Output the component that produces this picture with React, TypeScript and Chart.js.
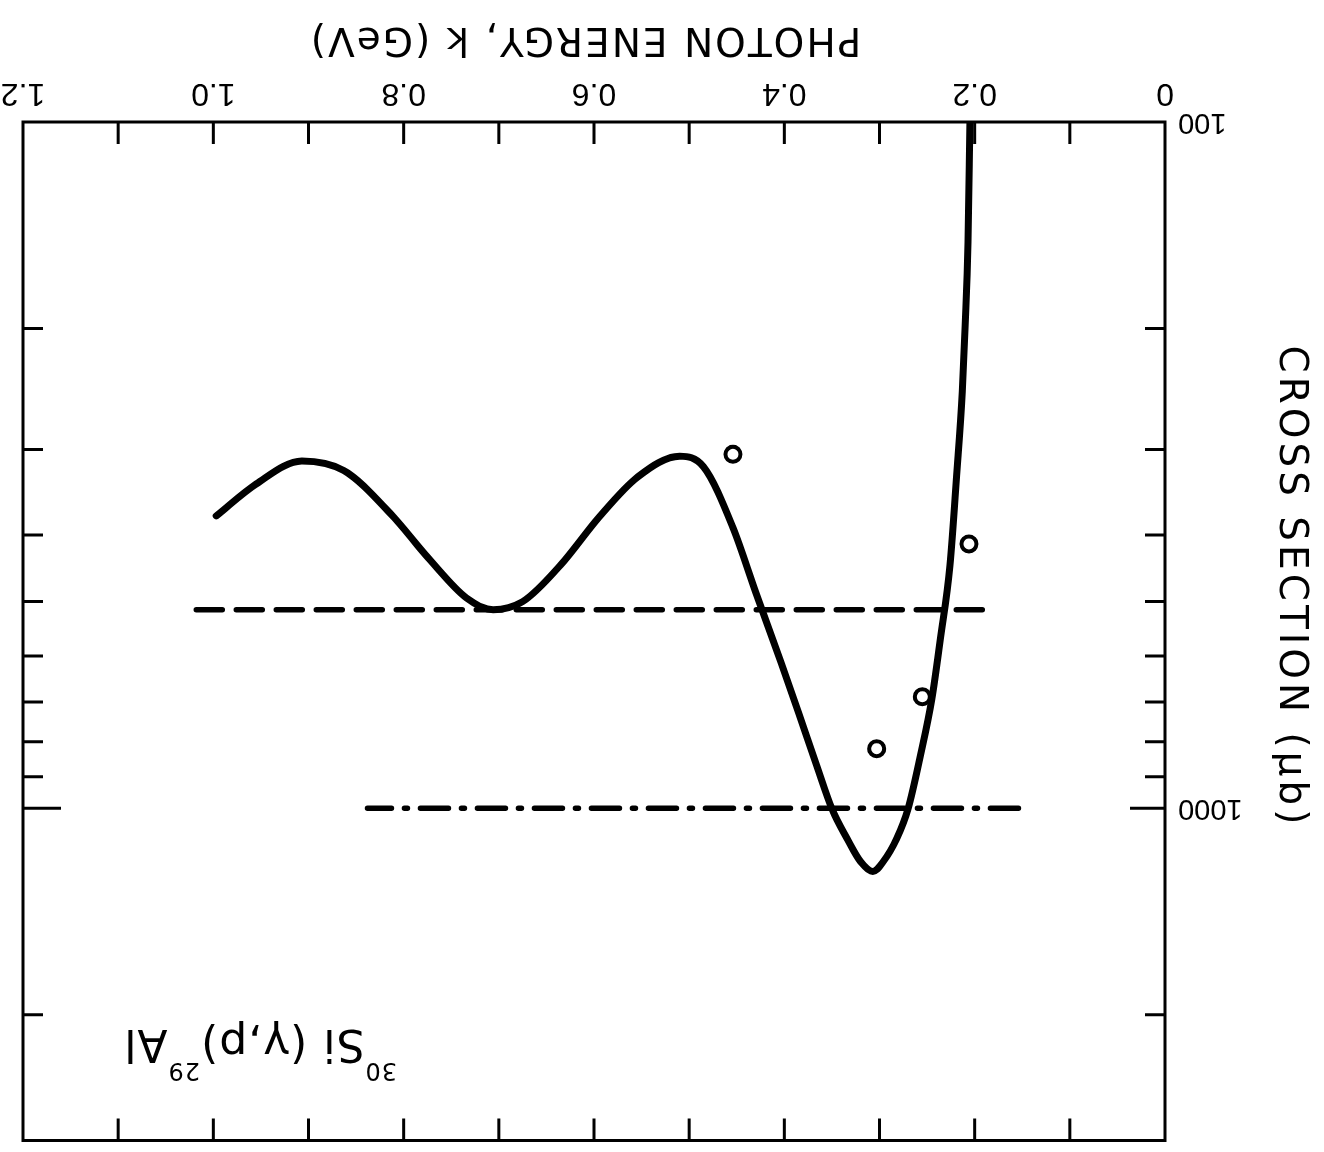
import React, { useEffect, useRef } from "react";
import { Chart, registerables } from "chart.js";

Chart.register(...registerables);

// ---- data (photon energy k in GeV, cross section in microbarn) ----
const curveK = [0.205, 0.207, 0.210, 0.213, 0.219, 0.226, 0.236, 0.245, 0.257, 0.270, 0.282, 0.296, 0.307, 0.320, 0.334, 0.350, 0.366, 0.384, 0.4035, 0.430, 0.454, 0.485, 0.510, 0.554, 0.595, 0.635, 0.675, 0.706, 0.734, 0.774, 0.814, 0.863, 0.907, 0.955, 0.997];
const curveSigma = [100, 149.5, 198, 247, 328, 443, 566, 693, 838, 1002, 1108, 1196, 1237, 1196, 1108, 1002, 867, 733, 613, 485, 390, 318, 307, 329, 377, 442, 500, 514, 494, 432, 372, 322, 312, 337, 375];

const measK = [0.206, 0.255, 0.303, 0.454];
const measSigma = [412, 688, 819, 305];

const dashedK = [0.192, 1.019];
const dashedSigma = [514, 514];

const dashDotK = [0.154, 0.838];
const dashDotSigma = [1000, 1000];

const xTickValues = [0, 0.2, 0.4, 0.6, 0.8, 1.0, 1.2];
const xTickLabels = ["0", "0.2", "0.4", "0.6", "0.8", "1.0", "1.2"];
const xTickMarks = [0.1, 0.2, 0.3, 0.4, 0.5, 0.6, 0.7, 0.8, 0.9, 1.0, 1.1];

const yTickValues = [100, 1000];
const yTickLabels = ["100", "1000"];
const yTickMarks = [200, 300, 400, 500, 600, 700, 800, 900, 1000, 2000];

const xTitle = "PHOTON ENERGY, k (GeV)";
const yTitle = "CROSS SECTION (\u03bcb)";
const reaction = [
  { t: "30", sup: true },
  { t: "Si", sup: false },
  { t: " (\u03b3,p)", sup: false },
  { t: "29", sup: true },
  { t: "Al", sup: false },
];

const W = 1324;
const H = 1152;

const framePlugin = {
  id: "frameAndText",
  afterDatasetsDraw(chart: any) {
    const { ctx, chartArea: a, scales } = chart;
    const xs = scales.x;
    const ys = scales.y;
    ctx.save();
    ctx.strokeStyle = "#000";
    ctx.lineWidth = 3;
    ctx.lineCap = "butt";
    ctx.strokeRect(a.left, a.top, a.right - a.left, a.bottom - a.top);
    ctx.beginPath();
    for (const v of xTickMarks) {
      const px = xs.getPixelForValue(v);
      ctx.moveTo(px, a.bottom);
      ctx.lineTo(px, a.bottom - 22);
      ctx.moveTo(px, a.top);
      ctx.lineTo(px, a.top + 22);
    }
    for (const v of yTickMarks) {
      const py = ys.getPixelForValue(v);
      const major = v === 1000;
      ctx.moveTo(a.left, py);
      ctx.lineTo(a.left + (major ? 35 : 20), py);
      ctx.moveTo(a.right, py);
      ctx.lineTo(a.right - (major ? 38 : 20), py);
    }
    ctx.stroke();

    ctx.fillStyle = "#000";
    // x title
    ctx.font = '39px "DejaVu Sans"';
    (ctx as any).letterSpacing = "2px";
    ctx.textAlign = "center";
    ctx.textBaseline = "alphabetic";
    ctx.fillText(xTitle, 739, 1124);

    // y title
    ctx.save();
    ctx.translate(44, 565);
    ctx.rotate(-Math.PI / 2);
    (ctx as any).letterSpacing = "4px";
    ctx.fillText(yTitle, 0, 0);
    ctx.restore();

    // reaction label
    (ctx as any).letterSpacing = "1px";
    ctx.textAlign = "left";
    let u = 927;
    for (const p of reaction) {
      ctx.font = p.sup ? '24px "DejaVu Sans"' : '44px "DejaVu Sans"';
      ctx.fillText(p.t, u, p.sup ? 89 : 122);
      u += ctx.measureText(p.t).width;
    }
    ctx.restore();
  },
};

export default function App() {
  const ref = useRef<HTMLCanvasElement | null>(null);
  useEffect(() => {
    const canvas = ref.current;
    if (!canvas) return;
    const chart = new Chart(canvas, {
      type: "line",
      data: {
        datasets: [
          {
            label: "calc",
            data: curveK.map((k, i) => ({ x: k, y: curveSigma[i] })),
            borderColor: "#000",
            borderWidth: 7,
            borderCapStyle: "round",
            borderJoinStyle: "round",
            pointRadius: 0,
            cubicInterpolationMode: "monotone",
            fill: false,
          },
          {
            label: "meas",
            data: measK.map((k, i) => ({ x: k, y: measSigma[i] })),
            showLine: false,
            pointRadius: 7.5,
            pointBorderWidth: 4,
            pointBorderColor: "#000",
            pointBackgroundColor: "rgba(0,0,0,0)",
          },
          {
            label: "dashed",
            data: dashedK.map((k, i) => ({ x: k, y: dashedSigma[i] })),
            borderColor: "#000",
            borderWidth: 5.5,
            borderDash: [26, 14],
            borderCapStyle: "round",
            pointRadius: 0,
            fill: false,
          },
          {
            label: "dashdot",
            data: dashDotK.map((k, i) => ({ x: k, y: dashDotSigma[i] })),
            borderColor: "#000",
            borderWidth: 5.5,
            borderDash: [28, 13, 3, 13],
            borderCapStyle: "round",
            pointRadius: 0,
            fill: false,
          },
        ],
      },
      options: {
        responsive: false,
        animation: false,
        layout: { padding: { left: 0, right: 23, top: 9, bottom: 0 } },
        plugins: { legend: { display: false }, tooltip: { enabled: false } },
        scales: {
          x: {
            type: "linear",
            min: 0,
            max: 1.2,
            grid: { display: false, drawTicks: false },
            border: { display: false },
            afterBuildTicks: (s: any) => {
              s.ticks = xTickValues.map((v) => ({ value: v }));
            },
            afterFit: (s: any) => {
              s.height = 122;
              s.paddingLeft = 0;
              s.paddingRight = 0;
            },
            ticks: {
              autoSkip: false,
              maxRotation: 0,
              minRotation: 0,
              padding: 10,
              color: "#000",
              font: { family: "Liberation Sans", size: 32 },
              callback: (_v: any, i: number) => xTickLabels[i],
            },
          },
          y: {
            type: "logarithmic",
            min: 100,
            max: 3050,
            grid: { display: false, drawTicks: false },
            border: { display: false },
            afterBuildTicks: (s: any) => {
              s.ticks = yTickValues.map((v) => ({ value: v }));
            },
            afterFit: (s: any) => {
              s.width = 159;
              s.paddingTop = 0;
              s.paddingBottom = 0;
            },
            ticks: {
              autoSkip: false,
              padding: 13,
              color: "#000",
              font: { family: "Liberation Sans", size: 29 },
              callback: (_v: any, i: number) => yTickLabels[i],
            },
          },
        },
      },
      plugins: [framePlugin],
    } as any);
    return () => chart.destroy();
  }, []);

  return (
    <div
      style={{
        position: "absolute",
        left: 0,
        top: 0,
        width: W,
        height: H,
        background: "#fff",
        transform: "rotate(180deg)",
      }}
    >
      <canvas ref={ref} width={W} height={H} style={{ display: "block", width: W, height: H }} />
    </div>
  );
}
